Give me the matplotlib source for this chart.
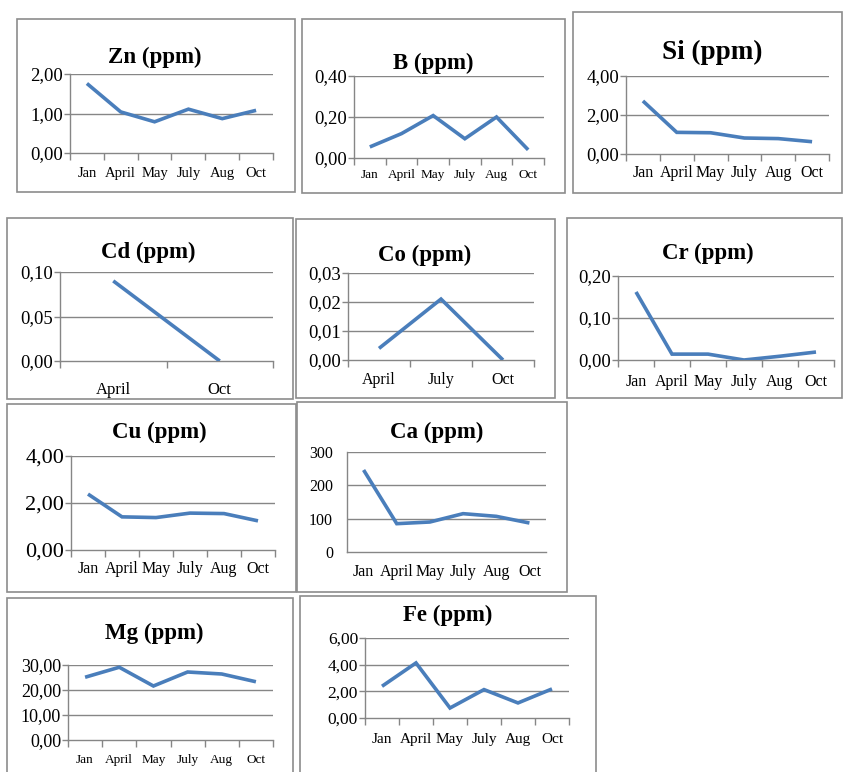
import matplotlib
matplotlib.use("Agg")
import matplotlib.pyplot as plt
from matplotlib.patches import Rectangle
from matplotlib.ticker import FixedLocator

plt.rcParams["font.family"] = ["Liberation Serif", "DejaVu Serif"]

W, H = 843, 772

months6 = ["Jan", "April", "May", "July", "Aug", "Oct"]

zn = [1.76, 1.04, 0.79, 1.11, 0.87, 1.08]
b = [0.054, 0.119, 0.207, 0.094, 0.200, 0.040]
si = [2.72, 1.11, 1.09, 0.82, 0.79, 0.63]
cd_months = ["April", "Oct"]
cd = [0.090, 0.000]
co_months = ["April", "July", "Oct"]
co = [0.004, 0.021, 0.000]
cr = [0.162, 0.014, 0.014, 0.000, 0.009, 0.019]
cu = [2.38, 1.41, 1.38, 1.57, 1.55, 1.24]
ca = [246, 85, 90, 115, 107, 87]
mg = [25.1, 29.1, 21.6, 27.2, 26.4, 23.3]
fe = [2.38, 4.13, 0.75, 2.13, 1.13, 2.18]

BLUE = "#4a7ebb"
GRID = "#868686"
FRAME = "#8c8c8c"

fig = plt.figure(figsize=(W / 100, H / 100), dpi=100)


def fx(x):
    return x / W


def fy(y):
    return 1 - y / H


def panel(frame, box, title, tpos, tsize, cats, vals, ymax, ystep, dec,
          ysize=13.5, xsize=10.5, xpad=10, ticks=True):
    # outer chart border
    x0, y0, x1, y1 = frame
    fig.add_artist(Rectangle((fx(x0), fy(y1)), (x1 - x0) / W, (y1 - y0) / H,
                             transform=fig.transFigure, fill=False,
                             edgecolor=FRAME, lw=1.2))
    # plot area
    l, t, r, btm = box
    ax = fig.add_axes([fx(l), fy(btm), (r - l) / W, (btm - t) / H])
    n = len(cats)
    ax.plot(range(n), vals, color=BLUE, lw=2.6, solid_joinstyle="miter",
            solid_capstyle="butt", zorder=3)
    ax.set_xlim(-0.5, n - 0.5)
    ax.set_ylim(0, ymax)
    yt = [i * ystep for i in range(int(round(ymax / ystep)) + 1)]
    ax.set_yticks(yt)
    ax.set_yticklabels([f"{v:.{dec}f}".replace(".", ",") for v in yt],
                       fontsize=ysize)
    for v in yt[1:]:
        ax.axhline(v, color=GRID, lw=1.0, zorder=1)
    ax.set_xticks(range(n))
    ax.set_xticklabels(cats, fontsize=xsize)
    ax.tick_params(axis="x", length=0, pad=xpad)
    if ticks:
        ax.xaxis.set_minor_locator(FixedLocator([i - 0.5 for i in range(n + 1)]))
        ax.tick_params(axis="x", which="minor", length=5, color=GRID, width=1.0)
        ax.tick_params(axis="y", length=4, color=GRID, width=1.0, pad=1)
    else:
        ax.tick_params(axis="y", length=0, pad=10)
    for s in ("top", "right"):
        ax.spines[s].set_visible(False)
    for s in ("left", "bottom"):
        ax.spines[s].set_color(GRID)
        ax.spines[s].set_linewidth(1.0)
    ax.set_facecolor("none")
    fig.text(fx(tpos[0]), fy(tpos[1]), title, fontsize=tsize, fontweight="bold",
             ha="center", va="center")
    return ax


panel((17, 19, 295, 192), (70, 74, 273, 153), "Zn (ppm)", (155, 57), 16.5,
      months6, zn, 2.0, 1.0, 2)
panel((302, 19, 565, 193), (354, 76, 544, 158), "B (ppm)", (433, 63), 16.5,
      months6, b, 0.4, 0.2, 2, xsize=9.5, xpad=8)
panel((573, 12, 842, 193), (626, 76, 829, 154), "Si (ppm)", (712, 52), 19.5,
      months6, si, 4.0, 2.0, 2, xsize=11.5, xpad=8)
panel((7, 218, 293, 399), (60, 272, 273, 361), "Cd (ppm)", (148, 252), 16.5,
      cd_months, cd, 0.10, 0.05, 2, xsize=12, xpad=15)
panel((296, 219, 555, 398), (348, 273, 534, 360), "Co (ppm)", (425, 255), 16.5,
      co_months, co, 0.03, 0.01, 2, xsize=11.5, xpad=9)
panel((567, 218, 842, 398), (618, 276, 834, 360), "Cr (ppm)", (708, 253), 16.5,
      months6, cr, 0.20, 0.10, 2, xsize=11.5, xpad=10)
panel((7, 404, 296, 592), (71, 456, 275, 550), "Cu (ppm)", (159, 432), 16.5,
      months6, cu, 4.0, 2.0, 2, ysize=16, xsize=11.5, xpad=8)
panel((297, 402, 567, 592), (347, 452, 546, 552), "Ca (ppm)", (437, 432), 16.5,
      months6, ca, 300, 100, 0, ysize=11.5, xsize=11.5, xpad=9, ticks=False)
panel((7, 598, 293, 790), (68, 665, 273, 740), "Mg (ppm)", (154, 633), 16.5,
      months6, mg, 30, 10, 2, ysize=13, xsize=9.5, xpad=10)
panel((300, 596, 596, 790), (365, 638, 569, 718), "Fe (ppm)", (448, 615), 16.5,
      months6, fe, 6.0, 2.0, 2, ysize=12.5, xsize=11, xpad=11)

fig.savefig("out.png", dpi=100)
